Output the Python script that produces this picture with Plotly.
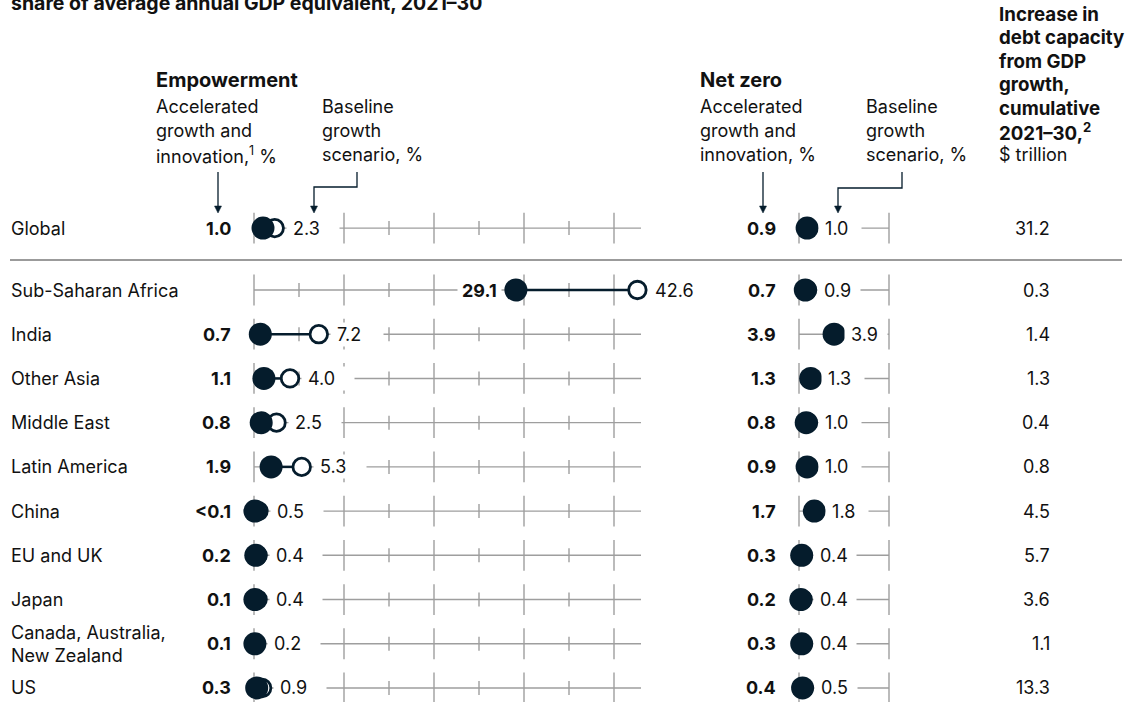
import plotly.graph_objects as go

# ---------------- data ----------------
regions = ["Global", "Sub-Saharan Africa", "India", "Other Asia", "Middle East",
           "Latin America", "China", "EU and UK", "Japan",
           "Canada, Australia,<br>New Zealand", "US"]
emp_acc = [1.0, 29.1, 0.7, 1.1, 0.8, 1.9, 0.1, 0.2, 0.1, 0.1, 0.3]
emp_acc_text = ["1.0", "29.1", "0.7", "1.1", "0.8", "1.9", "<0.1", "0.2", "0.1", "0.1", "0.3"]
emp_base = [2.3, 42.6, 7.2, 4.0, 2.5, 5.3, 0.5, 0.4, 0.4, 0.2, 0.9]
nz_acc = [0.9, 0.7, 3.9, 1.3, 0.8, 0.9, 1.7, 0.3, 0.2, 0.3, 0.4]
nz_base = [1.0, 0.9, 3.9, 1.3, 1.0, 1.0, 1.8, 0.4, 0.4, 0.4, 0.5]
debt = [31.2, 0.3, 1.4, 1.3, 0.4, 0.8, 4.5, 5.7, 3.6, 1.1, 13.3]

emp_major_ticks = [0, 10, 20, 30, 40]
emp_minor_ticks = [5, 15, 25, 35]
emp_axis_end = 43
nz_major_ticks = [0, 10]
nz_axis_end = 10

# ---------------- layout constants ----------------
W, H = 1140, 702
X0_EMP, X0_NZ, PXU = 254, 799, 9.0
ROW0_PX, ROW_STEP = 290, 44.22
GLOBAL_GAP = 1.4
row_y = [-GLOBAL_GAP] + list(range(len(regions) - 1))

DARK = "#051C2C"
GREY = "#9e9e9e"
TXT = "#111111"
FONT = "Inter, Liberation Sans, Arial, sans-serif"
FS = 18
NBSP = "\u00a0"


def px(p):
    return p / W


def py(p):
    return 1 - p / H


fig = go.Figure()


def add_axis_rows(xaxis, end, majors, minors):
    lx, ly = [], []
    for y in row_y:
        lx += [0, end, None]
        ly += [y, y, None]
    fig.add_trace(go.Scatter(x=lx, y=ly, mode="lines", xaxis=xaxis,
                             line=dict(color=GREY, width=1.4), hoverinfo="skip"))
    for ticks, size in ((majors, 22), (minors, 10)):
        if not ticks:
            continue
        tx, ty = [], []
        for y in row_y:
            tx += ticks
            ty += [y] * len(ticks)
        fig.add_trace(go.Scatter(x=tx, y=ty, mode="markers", xaxis=xaxis,
                                 marker=dict(symbol="line-ns", size=size,
                                             line=dict(color=GREY, width=1.4)),
                                 hoverinfo="skip"))


def add_dumbbells(xaxis, acc, base):
    cx, cy = [], []
    for a, b, y in zip(acc, base, row_y):
        cx += [a, b, None]
        cy += [y, y, None]
    fig.add_trace(go.Scatter(x=cx, y=cy, mode="lines", xaxis=xaxis,
                             line=dict(color=DARK, width=2.5), hoverinfo="skip"))
    fig.add_trace(go.Scatter(x=base, y=row_y, mode="markers", xaxis=xaxis,
                             marker=dict(size=17.5, color="white",
                                         line=dict(color=DARK, width=2.8)),
                             hoverinfo="skip"))
    fig.add_trace(go.Scatter(x=acc, y=row_y, mode="markers", xaxis=xaxis,
                             marker=dict(size=23, color=DARK, line=dict(width=0)),
                             hoverinfo="skip"))


add_axis_rows("x", emp_axis_end, emp_major_ticks, emp_minor_ticks)
add_dumbbells("x", emp_acc, emp_base)
add_axis_rows("x2", nz_axis_end, nz_major_ticks, [])
add_dumbbells("x2", nz_acc, nz_base)

ann = []


def text(x, y, s, size=FS, bold=False, xanchor="left", xref="paper", yref="paper", **kw):
    if bold:
        s = "<b>" + s + "</b>"
    kw.setdefault("align", "left")
    ann.append(dict(x=x, y=y, xref=xref, yref=yref, text=s, showarrow=False,
                    xanchor=xanchor, yanchor="middle",
                    font=dict(family=FONT, size=size, color=TXT), **kw))


# title (cut at top, as in the source)
text(px(9), py(3), "share of average annual GDP equivalent, 2021–30", size=19.5, bold=True)

# headers
text(px(154), py(80), "Empowerment", bold=True, size=20)
for i, s in enumerate(["Accelerated", "growth and", "innovation,<sup>1</sup> %"]):
    text(px(154), py(107 + 24 * i), s)
for i, s in enumerate(["Baseline", "growth", "scenario, %"]):
    text(px(320), py(107 + 24 * i), s)
text(px(698), py(80), "Net zero", bold=True, size=20)
for i, s in enumerate(["Accelerated", "growth and", "innovation, %"]):
    text(px(698), py(107 + 24 * i), s)
for i, s in enumerate(["Baseline", "growth", "scenario, %"]):
    text(px(864), py(107 + 24 * i), s)
for i, s in enumerate(["Increase in", "debt capacity", "from GDP", "growth,",
                       "cumulative", "2021–30,<sup>2</sup>"]):
    text(px(997), py(14 + 23.5 * i), s, bold=True, size=18.7)
text(px(997), py(155), "$ trillion")

# rows
for i, (r, y) in enumerate(zip(regions, row_y)):
    text(px(9), y, r, yref="y")
    text(px(1052), y, f"{debt[i]:.1f}", yref="y", xanchor="right", align="right")
    # empowerment accelerated (bold) label
    a, b = emp_acc[i], emp_base[i]
    inside = a > 10
    text(a if inside else 0, y, emp_acc_text[i], bold=True, xref="x", yref="y",
         xanchor="right", xshift=-14 if inside else -18, bgcolor="white", borderpad=4)
    text(max(a, b), y, NBSP + f"{b:.1f}", xref="x", yref="y", xshift=11,
         bgcolor="white", borderpad=1, width=50)
    # net zero
    a, b = nz_acc[i], nz_base[i]
    text(0, y, f"{a:.1f}", bold=True, xref="x2", yref="y",
         xanchor="right", xshift=-18, bgcolor="white", borderpad=4)
    text(max(a, b), y, NBSP + f"{b:.1f}", xref="x2", yref="y", xshift=10,
         bgcolor="white", borderpad=1, width=40)

# pointer arrows (lines + small triangular heads)
shapes = []


def pointer(points, tip_y):
    d = "M " + " L ".join(f"{px(x)} {py(y)}" for x, y in points)
    shapes.append(dict(type="path", xref="paper", yref="paper", path=d,
                       line=dict(color=DARK, width=1.3)))
    x = points[-1][0]
    head = (f"M {px(x - 3.5)} {py(tip_y - 7)} L {px(x + 3.5)} {py(tip_y - 7)} "
            f"L {px(x)} {py(tip_y)} Z")
    shapes.append(dict(type="path", xref="paper", yref="paper", path=head,
                       fillcolor=DARK, line=dict(color=DARK, width=0.5)))


pointer([(218, 172), (218, 206)], 213)
pointer([(357, 172), (357, 187), (314, 187), (314, 206)], 213)
pointer([(763, 172), (763, 206)], 213)
pointer([(902, 172), (902, 188), (838, 188), (838, 206)], 213)

shapes.append(dict(type="line", xref="paper", yref="paper", x0=px(10), x1=px(1122),
                   y0=py(260), y1=py(260), line=dict(color="#7a7a7a", width=1.5)))

fig.update_layout(
    width=W, height=H, margin=dict(l=0, r=0, t=0, b=0),
    paper_bgcolor="white", plot_bgcolor="white", showlegend=False,
    hovermode=False,
    xaxis=dict(range=[-X0_EMP / PXU, (W - X0_EMP) / PXU], visible=False, fixedrange=True),
    xaxis2=dict(range=[-X0_NZ / PXU, (W - X0_NZ) / PXU], visible=False,
                overlaying="x", fixedrange=True),
    yaxis=dict(range=[(H - ROW0_PX) / ROW_STEP, -ROW0_PX / ROW_STEP], visible=False,
               fixedrange=True),
    annotations=ann, shapes=shapes,
)

fig.write_html("out.html", config={"displayModeBar": False},
               post_script="document.body.style.margin='0';"
                           "document.body.style.overflow='hidden';")
